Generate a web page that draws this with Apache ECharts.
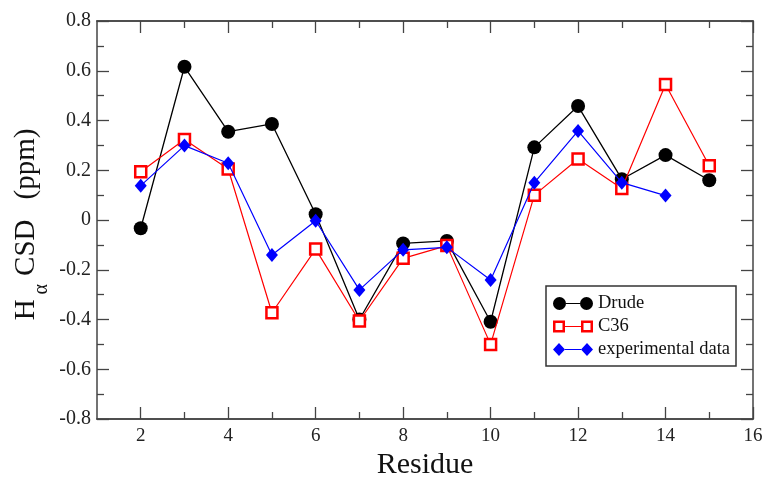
<!DOCTYPE html>
<html>
<head>
<meta charset="utf-8">
<script src="https://cdn.jsdelivr.net/npm/echarts@6/dist/echarts.min.js"></script>
<style>
  html, body { margin: 0; padding: 0; background: #fff; }
  #chart { width: 769px; height: 479px; }
</style>
</head>
<body>
<div id="chart"></div>
<script>
// Hα chemical shift deviations per residue
const residues = [2, 3, 4, 5, 6, 7, 8, 9, 10, 11, 12, 13, 14, 15];
const drude = [-0.033, 0.616, 0.355, 0.386, 0.023, -0.400, -0.094, -0.084, -0.409, 0.292, 0.458, 0.164, 0.261, 0.160];
const c36 = [0.194, 0.324, 0.205, -0.373, -0.117, -0.406, -0.154, -0.103, -0.500, 0.100, 0.245, 0.127, 0.545, 0.218];
const expResidues = [2, 3, 4, 5, 6, 7, 8, 9, 10, 11, 12, 13, 14];
const experimental = [0.138, 0.299, 0.228, -0.141, -0.003, -0.281, -0.120, -0.110, -0.241, 0.150, 0.358, 0.150, 0.098];

const majorX = [2, 4, 6, 8, 10, 12, 14, 16];
const minorX = [3, 5, 7, 9, 11, 13, 15];

const FONT = 'Liberation Serif';
const AXIS_COLOR = '#444';

const pairs = (xs, ys) => xs.map((x, i) => [x, ys[i]]);

// legend icons: two markers joined by a line segment
const circleAt = (cx, r) => `M${cx - r},6.5 A${r},${r} 0 1,1 ${cx + r},6.5 A${r},${r} 0 1,1 ${cx - r},6.5 Z `;
const joinLine = (a, b) => `M${a},5.9 L${b},5.9 L${b},7.1 L${a},7.1 Z `;
const hollowSquare = (x0) =>
  `M${x0},0.5 L${x0 + 12},0.5 L${x0 + 12},12.5 L${x0},12.5 Z ` +
  `M${x0 + 2.5},3 L${x0 + 2.5},10 L${x0 + 9.5},10 L${x0 + 9.5},3 Z `;
const diamondAt = (cx) => `M${cx},0 L${cx + 6},6.5 L${cx},13 L${cx - 6},6.5 Z `;

const iconDrude = 'path://' + circleAt(6.5, 6.5) + joinLine(13, 27) + circleAt(33.5, 6.5);
const iconC36 = 'path://' + hollowSquare(0) + joinLine(12, 28) + hollowSquare(28);
const iconExp = 'path://' + diamondAt(6) + joinLine(12, 28) + diamondAt(34);

const xCommon = {
  type: 'value', min: 1, max: 16, gridIndex: 0,
  splitLine: { show: false },
  axisLine: { show: true, onZero: false, lineStyle: { color: AXIS_COLOR, width: 1.5 } }
};

const yCommon = {
  type: 'value', min: -0.8, max: 0.8, interval: 0.2,
  splitLine: { show: false },
  axisLine: { show: true, onZero: false, lineStyle: { color: AXIS_COLOR, width: 1.5 } },
  axisTick: { show: true, inside: true, length: 12, lineStyle: { color: AXIS_COLOR, width: 1.3 } },
  minorTick: { show: true, splitNumber: 2, length: 7, lineStyle: { color: AXIS_COLOR, width: 1.3 } }
};

const option = {
  backgroundColor: '#fff',
  animation: false,
  grid: { left: 97, right: 16, top: 21, bottom: 60, containLabel: false, outerBoundsMode: 'none' },
  xAxis: [
    Object.assign({}, xCommon, {
      position: 'bottom',
      name: 'Residue',
      nameLocation: 'middle',
      nameGap: 31,
      nameMoveOverlap: false,
      nameTextStyle: { fontFamily: FONT, fontSize: 30, color: '#111' },
      axisTick: { show: true, inside: true, length: 12, customValues: majorX, lineStyle: { color: AXIS_COLOR, width: 1.3 } },
      axisLabel: { show: true, customValues: majorX, margin: 8, fontFamily: FONT, fontSize: 19, color: '#222' }
    }),
    Object.assign({}, xCommon, {
      position: 'bottom',
      axisTick: { show: true, inside: true, length: 7, customValues: minorX, lineStyle: { color: AXIS_COLOR, width: 1.3 } },
      axisLabel: { show: false }
    }),
    Object.assign({}, xCommon, {
      position: 'top',
      axisTick: { show: true, inside: true, length: 12, customValues: majorX, lineStyle: { color: AXIS_COLOR, width: 1.3 } },
      axisLabel: { show: false }
    }),
    Object.assign({}, xCommon, {
      position: 'top',
      axisTick: { show: true, inside: true, length: 7, customValues: minorX, lineStyle: { color: AXIS_COLOR, width: 1.3 } },
      axisLabel: { show: false }
    })
  ],
  yAxis: [
    Object.assign({}, yCommon, {
      position: 'left',
      name: '{h|H}{a|α}{c|CSD}{p|(ppm)}',
      nameLocation: 'middle',
      nameRotate: 90,
      nameGap: 56,
      nameMoveOverlap: false,
      nameTextStyle: {
        color: '#111',
        rich: {
          h: { fontFamily: FONT, fontSize: 29, color: '#111' },
          a: { fontFamily: FONT, fontSize: 20, color: '#111', lineHeight: 20, padding: [31, 8, 0, 5] },
          c: { fontFamily: FONT, fontSize: 29, color: '#111', padding: [0, 20, 0, 0] },
          p: { fontFamily: FONT, fontSize: 29, color: '#111', padding: [0, 9, 0, 0] }
        }
      },
      axisLabel: { show: true, margin: 6, fontFamily: FONT, fontSize: 20, color: '#222' }
    }),
    Object.assign({}, yCommon, {
      position: 'right',
      axisLabel: { show: false }
    })
  ],
  legend: {
    orient: 'vertical',
    left: 546,
    top: 286,
    padding: [8, 6, 7, 7],
    itemGap: 4,
    itemWidth: 40,
    itemHeight: 13,
    backgroundColor: '#fff',
    borderColor: '#333',
    borderWidth: 1.5,
    borderRadius: 0,
    selectedMode: false,
    textStyle: { fontFamily: FONT, fontSize: 18.5, color: '#111', lineHeight: 14 },
    data: [
      { name: 'Drude', icon: iconDrude, itemStyle: { color: '#000', borderWidth: 0 } },
      { name: 'C36', icon: iconC36, itemStyle: { color: '#ff0000', borderWidth: 0 } },
      { name: 'experimental data', icon: iconExp, itemStyle: { color: '#0000ff', borderWidth: 0 } }
    ]
  },
  series: [
    {
      name: 'Drude',
      type: 'line',
      xAxisIndex: 0, yAxisIndex: 0,
      data: pairs(residues, drude),
      symbol: 'circle',
      symbolSize: 14,
      lineStyle: { color: '#000', width: 1.3 },
      itemStyle: { color: '#000' },
      z: 2
    },
    {
      name: 'C36',
      type: 'line',
      xAxisIndex: 0, yAxisIndex: 0,
      data: pairs(residues, c36),
      symbol: 'rect',
      symbolSize: 11,
      lineStyle: { color: '#ff0000', width: 1.2 },
      itemStyle: { color: '#fff', borderColor: '#ff0000', borderWidth: 2.5 },
      z: 3
    },
    {
      name: 'experimental data',
      type: 'line',
      xAxisIndex: 0, yAxisIndex: 0,
      data: pairs(expResidues, experimental),
      symbol: 'diamond',
      symbolSize: [12, 14],
      lineStyle: { color: '#0000ff', width: 1.2 },
      itemStyle: { color: '#0000ff' },
      z: 4
    }
  ]
};

const chart = echarts.init(document.getElementById('chart'), null, { renderer: 'canvas' });
chart.setOption(option);
</script>
</body>
</html>
